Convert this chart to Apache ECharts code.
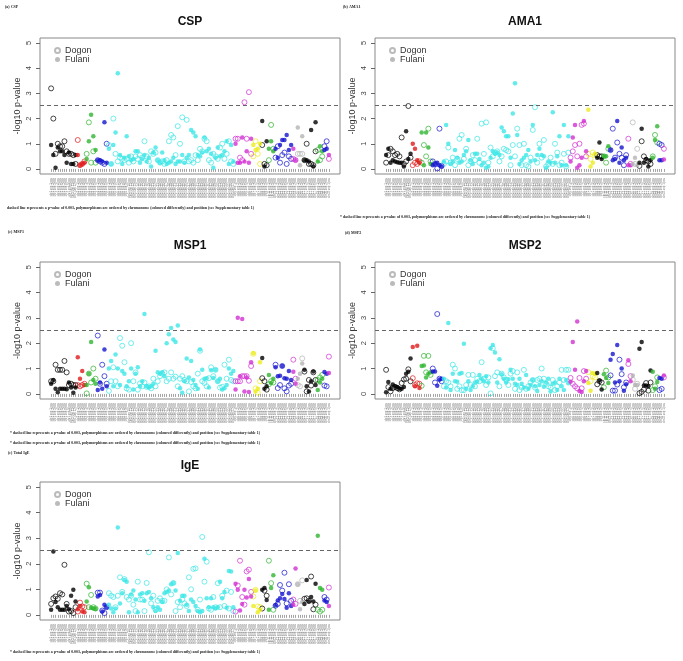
<!DOCTYPE html>
<html><head><meta charset="utf-8">
<script src="https://cdn.jsdelivr.net/npm/echarts@6/dist/echarts.min.js"></script>
<style>html,body{margin:0;padding:0;background:#fff}#c{width:683px;height:661px}</style>
</head><body><div id="c"></div>
<script>
// chromosome colour palette (R default palette order)
const palette = ['#000000','#e01b1b','#2fb52f','#1515d0','#3de6e6','#d22fd2','#ecec1e','#b4b4b4'];
// [chromosome, number of polymorphisms] in plotting order
const chrSegments = [[1,12],[2,4],[3,5],[4,5],[5,57],[6,8],[7,4],[9,3],[11,3],[12,8],[14,2],[16,3],[17,6],[19,3],[20,2],[22,1]];
const panelTitles = ['CSP','AMA1','MSP1','MSP2','IgE'];
const panelCaptions = ['(a) CSP','(b) AMA1','(c) MSP1','(d) MSP2','(e) Total IgE'];
const yTicks = [0,1,2,3,4,5];
const threshold = 2.52;
const legendNames = ['Dogon','Fulani'];

const cspDogon = [3.2,2.0,0.6,1.0,0.9,0.9,1.1,0.7,0.6,0.6,0.55,0.2, 1.15,0.15,0.2,0.3, 0.6,1.85,0.25,0.7,0.25, 0.35,0.3,0.25,0.2,1.0,
 0.95,0.2,2.0,0.6,0.3,0.45,0.4,0.35,0.4,0.25, 0.5,0.3,0.5,0.4,0.55,0.45,1.1,0.5,0.3,0.7, 0.6,0.65,0.35,0.25,0.3,0.2,0.35,1.1,1.35,1.25, 0.55,1.7,1.0,2.05,0.3,1.95,0.3,0.35,0.25,0.55, 0.35,0.8,0.7,1.2,1.1,0.35,0.25,0.6,0.5,0.4, 0.85,1.0,0.4,0.6,1.1,0.3,0.2,
 1.2,1.2,0.45,0.35,2.65,1.2,3.05,0.6, 0.5,1.1,0.6,0.2, 0.95,0.2,0.15, 0.35,1.75,0.8, 0.45,0.9,0.25,0.55,0.65,0.2,0.5,0.4, 0.4,0.35, 0.6,0.6,0.6, 0.35,1.0,0.2,0.2,0.15,0.7, 0.75,0.35,0.5, 0.9,1.1, 0.4];
const cspFulani = [0.95,0.55,0.05,0.85,0.7,0.7,0.55,0.25,0.65,0.2,0.2,0.55, 0.55,0.15,0.2,0.25, 0.4,1.1,2.15,1.3,0.75, 0.35,0.35,0.3,1.85,0.25,
 0.8,0.2,0.95,1.45,3.8,0.55,0.2,0.45,1.3,0.5, 0.35,0.4,0.7,0.7,0.25,0.4,0.55,0.3,0.45,0.1, 0.65,0.85,0.35,0.25,0.65,0.35,0.2,0.25,0.3,0.45, 0.2,0.3,0.3,0.55,0.25,0.45,0.55,1.55,1.45,1.3, 0.55,0.5,0.65,1.25,0.7,0.8,0.6,0.05,0.45,0.85, 0.5,0.55,0.7,1.1,0.2,0.95,0.3,
 1.0,0.25,0.25,1.25,0.3,0.7,0.25,1.2, 0.95,0.75,0.8,1.0, 1.9,0.1,1.1, 0.8,1.1,0.7, 0.8,0.45,0.95,1.15,1.15,1.35,0.75,0.95, 0.8,0.35, 1.65,0.15,1.3, 0.35,0.35,0.3,1.55,0.1,1.85, 0.3,0.9,0.7, 0.75,0.8, 0.55];

const ama1Dogon = [0.25,0.55,0.8,0.7,0.55,0.6,0.5,1.25,0.2,0.3,2.5,0.45, 0.15,0.25,0.2,0.3, 0.25,0.95,0.5,1.6,0.3, 0.3,0.2,0.02,1.6,0.12,
 0.2,0.3,0.85,0.25,0.45,0.15,0.4,1.2,1.35,0.4, 0.8,0.15,0.3,0.55,0.35,1.2,0.25,1.8,0.6,1.85, 0.25,0.85,0.5,0.65,0.7,0.3,0.5,0.8,0.75,0.7, 0.15,0.95,0.5,1.6,0.95,0.15,1.0,0.15,0.1,0.45, 1.55,2.45,0.25,1.0,0.45,1.15,0.1,0.2,0.45,0.2, 1.0,0.65,0.15,0.25,0.6,0.1,0.65,
 0.45,0.7,0.95,0.5,1.0,1.75,1.8,0.5, 0.6,0.4,0.65,0.55, 0.55,0.5,0.5, 0.5,0.25,0.8, 0.75,1.6,0.45,1.05,0.6,0.45,0.15,0.55, 1.2,0.2, 1.85,0.2,0.8, 0.12,1.1,0.5,0.35,0.3,0.2, 0.5,1.35,1.05, 1.0,0.95, 0.8];
const ama1Fulani = [0.55,0.8,0.25,0.35,0.3,0.27,0.25,0.25,0.1,1.5,0.4,0.6, 1.0,0.8,0.35,0.25, 1.45,0.15,1.45,0.85,0.2, 0.15,0.2,0.25,0.15,0.1,
 0.3,1.75,1.0,0.2,0.3,0.75,0.45,0.25,0.3,0.55, 0.7,1.15,0.35,0.2,0.6,0.6,0.4,0.15,0.25,0.05, 0.1,0.45,0.7,0.6,0.65,0.55,1.65,1.5,1.3,1.3, 0.45,2.2,3.4,1.35,0.2,0.35,0.45,0.55,0.75,0.3, 1.75,0.35,0.55,0.8,0.55,0.5,0.05,0.3,0.25,2.25, 0.25,0.5,1.3,0.15,1.75,0.15,1.3,
 0.3,1.25,1.75,0.05,0.15,0.45,1.9,0.7, 2.35,0.1,0.25,0.6, 0.45,1.05,0.4, 0.5,0.5,0.9, 0.75,0.35,0.4,1.9,0.25,0.85,0.35,0.45, 0.15,0.15, 0.2,0.45,0.15, 0.25,1.6,0.25,0.4,0.1,0.35, 0.45,1.15,1.7, 0.35,0.35, 0.38];

const msp1Dogon = [0.5,0.5,1.15,0.95,0.95,0.95,1.3,0.85,0.35,0.4,0.35,0.35, 0.35,0.3,0.35,0.4, 0.02,0.8,0.45,1.0,0.6, 2.3,0.4,1.15,0.7,0.4,
 0.12,0.5,1.05,0.5,0.3,2.2,1.9,1.25,0.22,0.17, 2.0,0.5,0.85,0.17,0.42,0.3,0.45,0.28,0.3,0.22, 0.6,0.3,0.5,0.7,0.8,0.85,0.5,0.6,0.85,0.6, 0.68,0.3,0.6,0.7,0.55,0.5,0.1,0.47,0.3,0.22, 0.8,1.7,0.5,0.43,0.3,0.62,1.05,0.7,0.95,0.5, 0.25,0.28,1.15,0.6,1.35,0.55,0.5,
 0.5,0.5,0.5,0.7,0.7,0.7,0.52,1.1, 1.58,0.22,0.05,0.5, 0.62,0.5,0.17, 0.38,0.5,0.45, 1.15,0.23,0.35,1.1,0.22,0.1,0.33,0.4, 1.35,0.6, 0.35,0.3,1.4, 0.88,0.1,0.55,0.33,0.85,0.55, 0.55,0.65,0.75, 0.33,0.3, 1.47];
const msp1Fulani = [0.4,0.55,0.2,0.07,0.2,0.2,0.2,0.18,0.45,0.25,0.05,0.25, 1.45,0.6,0.9,0.35, 0.35,0.8,2.05,0.55,0.4, 0.15,0.45,0.2,1.75,0.3,
 1.0,1.3,0.3,1.55,1.0,0.35,0.9,0.8,0.3,0.5, 1.0,0.17,0.8,1.05,0.3,0.5,3.15,0.3,0.25,0.3, 0.4,1.7,0.85,0.8,0.85,0.7,2.0,2.35,2.6,2.15, 2.05,2.7,0.22,0.05,0.5,1.4,0.65,1.3,0.55,0.35, 0.2,1.75,0.95,0.6,0.62,0.25,0.93,0.63,0.95,0.5, 0.6,0.17,0.22,0.35,1.0,0.8,0.9,
 0.17,3.0,0.7,2.95,0.1,0.65,0.08,1.25, 1.6,0.1,0.2,1.25, 1.42,0.2,0.3, 0.75,0.43,0.6, 1.05,0.7,0.72,1.1,0.62,0.6,0.9,0.55, 0.87,0.4, 0.6,0.8,1.2, 0.95,0.3,0.1,0.5,0.88,0.35, 0.15,0.45,0.6, 0.86,0.8, 0.82];

const msp2Dogon = [0.95,0.27,0.1,0.23,0.27,0.23,0.18,0.43,0.57,0.6,0.97,0.5, 0.62,0.35,0.42,0.4, 0.32,1.5,0.85,1.5,0.75, 1.0,0.45,3.15,0.6,0.5,
 0.3,0.5,0.45,0.3,1.15,1.0,0.2,0.3,0.15,0.15, 0.35,0.75,0.35,0.75,0.3,0.6,0.5,1.25,0.6,0.35, 0.65,0.02,1.8,0.7,0.85,0.3,0.8,0.65,0.55,0.35, 0.8,0.9,0.2,0.85,0.15,0.25,0.95,0.2,0.3,0.45, 0.55,0.25,0.55,0.6,1.0,0.6,0.4,0.3,0.25,0.55, 0.15,0.3,0.45,0.95,0.55,0.95,0.95,
 0.63,0.4,0.3,0.22,0.63,0.22,0.9,0.6, 0.86,0.5,0.7,0.65, 0.38,0.5,0.45, 0.26,0.92,0.65, 0.73,0.13,0.13,0.37,1.35,0.78,0.26,0.45, 1.18,0.7, 0.56,0.2,0.4, 0.03,0.08,0.17,0.43,0.13,0.45, 0.15,0.3,0.65, 0.15,0.2, 0.65];
const msp2Fulani = [0.07,0.47,0.2,0.37,0.3,0.27,0.2,0.2,0.27,0.8,0.87,1.4, 1.85,0.3,1.9,0.23, 1.1,1.12,0.65,0.8,0.85, 0.88,0.88,0.32,0.57,0.6,
 0.6,0.25,2.8,0.15,0.8,0.5,0.48,0.8,0.82,1.98, 0.2,0.5,0.15,0.3,0.45,0.48,0.75,0.6,0.5,0.7, 0.45,1.8,1.93,1.63,0.45,1.37,0.78,0.6,0.45,0.58, 0.95,0.6,0.4,0.35,0.6,0.4,0.25,0.75,0.2,0.35, 0.55,0.3,0.12,0.35,0.5,0.28,0.45,0.6,0.1,0.4, 0.45,0.15,0.6,0.3,0.15,0.55,0.42,
 0.48,2.05,0.95,2.85,0.12,0.08,0.5,0.9, 0.43,0.13,0.82,0.8, 0.82,0.53,0.17, 0.78,0.63,0.43, 1.35,1.57,0.45,1.93,0.5,1.0,0.13,0.38, 1.33,0.5, 0.73,0.35,0.35, 1.78,2.05,0.33,0.33,0.3,0.92, 0.87,0.2,0.47, 0.63,0.6, 0.73];

const igeDogon = [0.43,0.65,0.72,0.63,0.85,0.8,1.96,0.43,0.13,0.15,0.07,0.3, 0.13,0.48,0.33,0.3, 1.22,0.3,0.78,0.3,0.25, 0.87,0.87,0.17,0.07,0.3,
 0.85,0.75,0.7,0.3,0.75,1.47,0.9,1.4,0.7,0.6, 0.75,0.4,0.15,1.3,0.6,0.6,0.15,1.25,2.45,0.45, 0.75,0.2,0.55,0.65,0.55,0.55,1.0,2.25,0.8,1.25, 0.15,0.5,0.3,0.6,0.45,0.35,1.47,1.0,1.8,1.82, 0.2,0.6,3.05,1.3,2.08,0.25,0.2,0.7,0.3,1.24, 0.3,0.75,0.35,0.95,0.25,0.9,0.15,
 0.13,1.15,2.12,0.7,0.4,1.7,1.77,0.9, 0.72,0.98,0.33,0.3, 0.25,0.95,0.75, 2.12,1.24,0.2, 0.36,0.43,1.17,0.95,1.65,0.45,1.2,0.55, 0.6,0.43, 1.2,0.55,1.35, 0.63,0.65,0.55,1.5,0.22,0.4, 0.2,0.13,0.2, 0.7,0.6, 1.07];
const igeFulani = [0.2,2.48,0.5,0.3,0.2,0.2,0.2,0.35,0.22,0.75,0.98,0.52, 0.22,0.35,0.13,0.1, 0.52,1.08,0.28,0.25,0.23, 0.72,0.78,0.13,0.4,0.3,
 0.4,0.25,0.1,0.25,3.42,0.45,0.85,1.37,1.3,0.1, 0.8,0.95,0.6,0.1,0.8,0.85,0.55,0.85,0.9,0.65, 0.3,0.15,0.3,0.2,0.5,0.85,0.9,0.95,1.2,1.25, 0.95,2.42,0.55,0.75,0.75,0.4,0.15,0.6,0.5,0.35, 0.15,0.1,0.15,2.2,0.65,0.3,0.65,0.3,0.25,0.3, 1.3,0.65,0.9,0.28,1.72,1.7,0.3,
 1.22,0.98,0.17,0.43,0.98,0.68,1.4,0.72, 0.35,0.95,0.1,0.2, 0.98,1.05,0.58, 0.2,1.05,1.55, 0.38,0.56,0.65,0.82,0.62,0.28,0.85,0.35, 0.4,1.82, 1.2,0.22,0.5, 0.43,1.37,0.52,0.7,0.52,1.22, 3.1,1.05,0.98, 0.56,0.5, 0.35];

const panelDogon = [cspDogon, ama1Dogon, msp1Dogon, msp2Dogon, igeDogon];
const panelFulani = [cspFulani, ama1Fulani, msp1Fulani, msp2Fulani, igeFulani];

const footnote = 'dashed line represents a p-value of 0.003, polymorphisms are ordered by chromosome (coloured differently) and position (see Supplementary table 1)';

// ---- derived: chromosome of each polymorphism and its tick label ----
const snpChr = [];
const snpLabels = [];
chrSegments.forEach(([c, n]) => { for (let k = 1; k <= n; k++) { snpChr.push(c); snpLabels.push('chr' + c + ' snp ' + k + ' pos'); } });
const PAD = 5;
const pad = new Array(PAD).fill('');
const xCats = pad.concat(snpLabels, pad);
const colorOf = c => palette[(c - 1) % 8];

// ---- layout ----
const grids = [
  {left: 40, top: 38, width: 300, height: 136},
  {left: 375, top: 38, width: 300, height: 136},
  {left: 40, top: 262, width: 300, height: 137},
  {left: 375, top: 262, width: 300, height: 137},
  {left: 40, top: 482, width: 300, height: 138}
];
const SANS = 'Liberation Sans, Arial, sans-serif';
const SERIF = 'Liberation Serif, DejaVu Serif, serif';

const xAxes = [], yAxes = [], series = [], legends = [], graphics = [];
grids.forEach((g, i) => {
  xAxes.push({
    gridIndex: i, type: 'category', data: xCats, boundaryGap: false,
    axisLine: {show: false},
    axisTick: {show: true, length: 3, interval: (idx, v) => v !== '', lineStyle: {color: '#666', width: 0.6}},
    axisLabel: {show: true, interval: 0, rotate: 90, fontSize: 2.8, color: '#777', margin: 4, fontFamily: SANS},
    splitLine: {show: false}
  });
  yAxes.push({
    gridIndex: i, type: 'value', min: -0.2, max: 5.2,
    name: '-log10 p-value', nameLocation: 'middle', nameGap: 18, nameRotate: 90,
    nameTextStyle: {fontSize: 9, color: '#333', fontFamily: SANS},
    axisLine: {show: false},
    axisTick: {show: true, length: 4, customValues: yTicks, lineStyle: {color: '#666'}},
    axisLabel: {show: true, customValues: yTicks, rotate: 90, fontSize: 7.5, color: '#444', margin: 7, fontFamily: SANS},
    splitLine: {show: false}
  });
  const dog = panelDogon[i].map((v, k) => ({value: [k + PAD, v], itemStyle: {borderColor: colorOf(snpChr[k])}}));
  const ful = panelFulani[i].map((v, k) => ({value: [k + PAD, v], itemStyle: {color: colorOf(snpChr[k])}}));
  series.push({
    name: 'Dogon', type: 'scatter', xAxisIndex: i, yAxisIndex: i, symbol: 'circle', symbolSize: 5,
    itemStyle: {color: 'transparent', borderColor: '#aaa', borderWidth: 0.9}, data: dog, silent: true
  });
  series.push({
    name: 'Fulani', type: 'scatter', xAxisIndex: i, yAxisIndex: i, symbol: 'circle', symbolSize: 4.5,
    itemStyle: {color: '#aaa'}, data: ful, silent: true,
    markLine: {silent: true, symbol: 'none', label: {show: false},
      lineStyle: {type: [4, 3], color: '#666', width: 1}, data: [{yAxis: threshold}]}
  });
  legends.push({
    data: legendNames, orient: 'vertical', left: g.left + 14, top: g.top + 8, padding: 0,
    itemWidth: 5, itemHeight: 5, itemGap: 0, selectedMode: false,
    textStyle: {fontSize: 9, color: '#333', lineHeight: 8, fontFamily: SANS, padding: [0, 0, 0, 0]}
  });
  graphics.push({type: 'text', x: g.left + g.width / 2, y: g.top - 22,
    style: {text: panelTitles[i], font: 'bold 12px ' + SANS, fill: '#111', align: 'center'}});
});

// captions
const capPos = [[5, 5], [343, 5], [8, 230], [345, 231], [8, 451]];
capPos.forEach((p, i) => graphics.push({type: 'text', x: p[0], y: p[1],
  style: {text: panelCaptions[i], font: 'bold 4px ' + SERIF, fill: '#222'}}));
// footnotes
const footPos = [[7, 206, ''], [340, 215, '* '], [10, 431, '* '], [10, 441, '* '], [10, 650, '* ']];
footPos.forEach(p => graphics.push({type: 'text', x: p[0], y: p[1],
  style: {text: p[2] + footnote, font: 'bold 3.9px ' + SERIF, fill: '#222'}}));

const chart = echarts.init(document.getElementById('c'), null, {renderer: 'canvas'});
chart.setOption({
  animation: false,
  backgroundColor: '#fff',
  grid: grids.map(g => Object.assign({show: true, borderColor: '#888', borderWidth: 1, backgroundColor: 'transparent'}, g)),
  xAxis: xAxes, yAxis: yAxes, legend: legends, series: series, graphic: graphics
});
</script></body></html>
